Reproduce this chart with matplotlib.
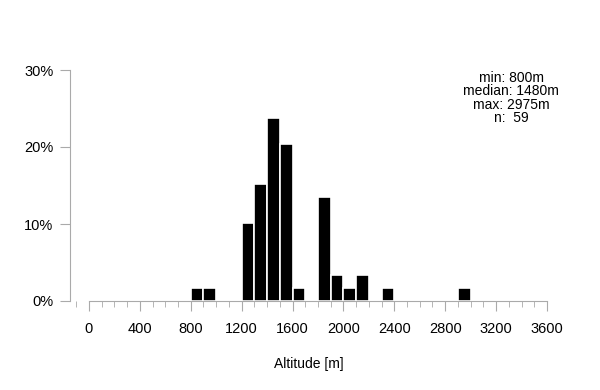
import numpy as np
import matplotlib.pyplot as plt
from matplotlib.ticker import MultipleLocator, FuncFormatter

plt.rcParams['font.family'] = ['Liberation Sans', 'DejaVu Sans']

# histogram of altitudes, 100 m bins, counts per bin
bin_left = [800, 900, 1200, 1300, 1400, 1500, 1600, 1800, 1900, 2000, 2100, 2300, 2900]
counts = [1, 1, 6, 9, 14, 12, 1, 8, 2, 1, 2, 1, 1]
n_total = 59
stats = ["min: 800m", "median: 1480m", "max: 2975m", "n:  59"]

pct = np.array(counts) / n_total * 100

fig = plt.figure(figsize=(6, 3.9), dpi=100)
ax = fig.add_axes([70 / 600, 1 - 301 / 390, (547 - 70) / 600, (301 - 70) / 390])

ax.bar(bin_left, pct, width=100, align='edge', color='black',
       edgecolor='white', linewidth=1.2)

ax.set_xlim(-149, 3600)
ax.set_ylim(0, 30)

grey = '#aaaaaa'
for s in ['top', 'right']:
    ax.spines[s].set_visible(False)
ax.spines['left'].set_color(grey)
ax.spines['bottom'].set_color(grey)
ax.spines['left'].set_bounds(0, 30)
ax.spines['bottom'].set_bounds(0, 3600)

ax.xaxis.set_major_locator(MultipleLocator(400))
ax.xaxis.set_minor_locator(MultipleLocator(100))
ax.set_yticks([0, 10, 20, 30])
ax.yaxis.set_major_formatter(FuncFormatter(lambda v, p: f"{int(v)}%"))
ax.tick_params(axis='x', which='major', length=7, color=grey, labelsize=10.5, pad=8)
ax.tick_params(axis='x', which='minor', length=4, color=grey)
ax.tick_params(axis='y', length=7, color=grey, labelsize=10.5, pad=5)

ax.set_xlabel("Altitude [m]", fontsize=10, labelpad=15)

ax.text(0.925, 0.995, "\n".join(stats), transform=ax.transAxes,
        ha='center', va='top', fontsize=10, linespacing=0.93)

fig.savefig("out.png", dpi=100)
